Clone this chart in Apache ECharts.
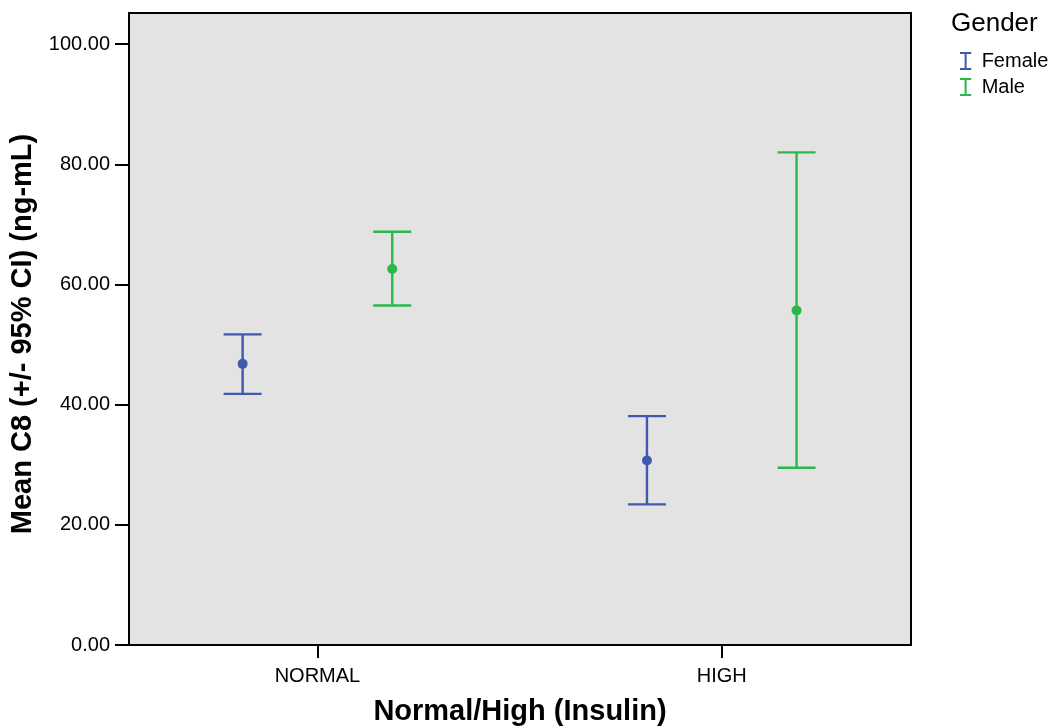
<!DOCTYPE html>
<html>
<head>
<meta charset="utf-8">
<script src="https://cdn.jsdelivr.net/npm/echarts@6/dist/echarts.min.js"></script>
<style>
html,body{margin:0;padding:0;background:#fff;}
#chart{width:1055px;height:728px;}
</style>
</head>
<body>
<div id="chart"></div>
<script>
var categories = ['NORMAL', 'HIGH'];
var yTicks = [0, 20, 40, 60, 80, 100];
var femaleMean = [46.8, 30.7];
var femaleLow = [41.8, 23.4];
var femaleHigh = [51.7, 38.1];
var maleMean = [62.6, 55.7];
var maleLow = [56.5, 29.5];
var maleHigh = [68.8, 82.0];

var FONT = '"Liberation Sans", Arial, Helvetica, sans-serif';
var BLUE = '#3F59AE';
var GREEN = '#2BB84B';

function buildData(mean, low, high) {
  return categories.map(function (c, i) { return [i, mean[i], low[i], high[i]]; });
}

function makeRender(offset, color) {
  return function (params, api) {
    var x = api.value(0) + offset;
    var pm = api.coord([x, api.value(1)]);
    var pl = api.coord([x, api.value(2)]);
    var ph = api.coord([x, api.value(3)]);
    var hw = 19;
    var st = { stroke: color, lineWidth: 2.4 };
    return {
      type: 'group',
      children: [
        { type: 'line', shape: { x1: pl[0], y1: pl[1], x2: ph[0], y2: ph[1] }, style: st },
        { type: 'line', shape: { x1: ph[0] - hw, y1: ph[1], x2: ph[0] + hw, y2: ph[1] }, style: st },
        { type: 'line', shape: { x1: pl[0] - hw, y1: pl[1], x2: pl[0] + hw, y2: pl[1] }, style: st },
        { type: 'circle', shape: { cx: pm[0], cy: pm[1], r: 5 }, style: { fill: color } }
      ]
    };
  };
}

var iconI = 'path://M0,0H10V1.8H5.9V14.2H10V16H0V14.2H4.1V1.8H0Z';

var chart = echarts.init(document.getElementById('chart'), null, { renderer: 'canvas' });
chart.setOption({
  animation: false,
  backgroundColor: '#ffffff',
  textStyle: { fontFamily: FONT },
  grid: {
    left: 129, right: 144, top: 13, bottom: 83,
    containLabel: false, outerBoundsMode: 'none',
    show: true, backgroundColor: '#E3E3E3', borderColor: '#000', borderWidth: 2
  },
  graphic: [{
    type: 'text', left: 951, top: 11,
    style: { text: 'Gender', fontSize: 26, fontFamily: FONT, fill: '#000' }
  }],
  legend: {
    orient: 'vertical', left: 955, top: 46,
    itemWidth: 12, itemHeight: 18, itemGap: 6,
    textStyle: { fontSize: 20, fontFamily: FONT, color: '#000', padding: [0, 0, 0, 5] },
    data: [{ name: 'Female', icon: iconI }, { name: 'Male', icon: iconI }]
  },
  xAxis: {
    type: 'value', min: -0.466, max: 1.468,
    splitLine: { show: false },
    axisLine: { show: true, onZero: false, lineStyle: { color: '#000', width: 2 } },
    axisTick: { show: true, length: 13, lineStyle: { color: '#000', width: 2 }, customValues: [0, 1] },
    axisLabel: {
      customValues: [0, 1], margin: 21, fontSize: 20, color: '#000', fontFamily: FONT,
      formatter: function (v) { return categories[Math.round(v)]; }
    },
    name: 'Normal/High (Insulin)', nameLocation: 'middle', nameGap: 52,
    nameTextStyle: { fontSize: 29, fontWeight: 'bold', color: '#000', fontFamily: FONT }
  },
  yAxis: {
    type: 'value', min: 0, max: 105.2,
    splitLine: { show: false },
    axisLine: { show: true, onZero: false, lineStyle: { color: '#000', width: 2 } },
    axisTick: { show: true, length: 14, lineStyle: { color: '#000', width: 2 }, customValues: yTicks },
    axisLabel: {
      customValues: yTicks, margin: 19, fontSize: 20, color: '#000', fontFamily: FONT,
      formatter: function (v) { return v.toFixed(2); }
    },
    name: 'Mean C8 (+/- 95% CI) (ng-mL)', nameLocation: 'middle', nameGap: 87,
    nameTextStyle: { fontSize: 29, fontWeight: 'bold', color: '#000', fontFamily: FONT, padding: [0, 10, 0, 0] }
  },
  series: [
    {
      name: 'Female', type: 'custom', color: BLUE, itemStyle: { color: BLUE },
      renderItem: makeRender(-0.185, BLUE), data: buildData(femaleMean, femaleLow, femaleHigh),
      encode: { x: 0, y: [1, 2, 3] }
    },
    {
      name: 'Male', type: 'custom', color: GREEN, itemStyle: { color: GREEN },
      renderItem: makeRender(0.185, GREEN), data: buildData(maleMean, maleLow, maleHigh),
      encode: { x: 0, y: [1, 2, 3] }
    }
  ]
});
</script>
</body>
</html>
